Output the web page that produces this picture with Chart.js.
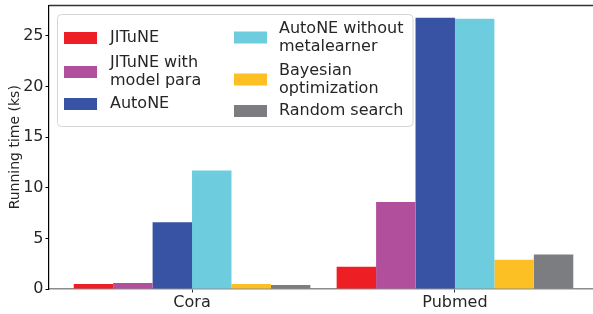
<!DOCTYPE html>
<html>
<head>
<meta charset="utf-8">
<script src="https://cdn.jsdelivr.net/npm/chart.js@4.4.1/dist/chart.umd.min.js"></script>
<style>
  html, body { margin: 0; padding: 0; background: #fff; }
  #wrap { width: 593px; height: 314px; position: relative; }
</style>
</head>
<body>
<div id="wrap"><canvas id="grafico"></canvas></div>
<script>
// ------- Dados -------
const categorias = ['Cora', 'Pubmed'];
const metodos = ['JITuNE', 'JITuNE with\nmodel para', 'AutoNE', 'AutoNE without\nmetalearner', 'Bayesian\noptimization', 'Random search'];
const jitune = [0.5, 2.2];
const jituneModelPara = [0.6, 8.6];
const autone = [6.6, 26.8];
const autoneSemMeta = [11.7, 26.7];
const bayesiana = [0.5, 2.9];
const aleatoria = [0.4, 3.4];
const yTicks = [0, 5, 10, 15, 20, 25];
const yMax = 28;

const series = [jitune, jituneModelPara, autone, autoneSemMeta, bayesiana, aleatoria];
const cores = ['#ED1F24', '#B14F9C', '#3953A4', '#6DCDDE', '#FDC024', '#7C7D81'];

const FONTE = "'DejaVu Sans', sans-serif";
const TEXTO = '#262626';

// ------- Legenda (2 colunas, rótulos com quebra de linha) -------
const legendaCaixa = { x: 57.5, y: 14.5, w: 355.5, h: 112, r: 4 };
const legendaPatchX = [64, 234];
const legendaTextoX = [110, 279];
const legendaCentroY = [38, 72, 104, 37.5, 79.5, 111];

const legendaPlugin = {
  id: 'legendaCustom',
  afterDraw(chart) {
    const ctx = chart.ctx;
    ctx.save();
    const b = legendaCaixa;
    ctx.beginPath();
    ctx.roundRect(b.x, b.y, b.w, b.h, b.r);
    ctx.fillStyle = 'rgba(255,255,255,0.8)';
    ctx.fill();
    ctx.strokeStyle = '#d6d6d6';
    ctx.lineWidth = 1;
    ctx.stroke();

    ctx.font = '16px ' + FONTE;
    ctx.textBaseline = 'middle';
    ctx.textAlign = 'left';
    chart.data.datasets.forEach((ds, i) => {
      const col = i < 3 ? 0 : 1;
      const cy = legendaCentroY[i];
      ctx.fillStyle = ds.backgroundColor;
      ctx.fillRect(legendaPatchX[col], cy - 6, 33, 12);
      const linhas = ds.label.split('\n');
      const lh = 18;
      ctx.fillStyle = TEXTO;
      linhas.forEach((l, k) => {
        const y = cy + (k - (linhas.length - 1) / 2) * lh;
        ctx.fillText(l, legendaTextoX[col], y);
      });
    });
    ctx.restore();
  }
};

// linha superior do eixo (spine)
const spinePlugin = {
  id: 'spineTopo',
  afterDraw(chart) {
    const { ctx, chartArea } = chart;
    ctx.save();
    ctx.strokeStyle = '#333';
    ctx.lineWidth = 1.5;
    ctx.beginPath();
    ctx.moveTo(chartArea.left, chartArea.top);
    ctx.lineTo(chartArea.right, chartArea.top);
    ctx.stroke();
    ctx.restore();
  }
};

Chart.defaults.font.family = FONTE;
Chart.defaults.color = TEXTO;

const ctx = document.getElementById('grafico').getContext('2d');
const chart = new Chart(ctx, {
  type: 'bar',
  data: {
    datasets: series.map((vals, i) => ({
      label: metodos[i],
      data: vals.map((v, j) => ({ x: j, y: v })),
      backgroundColor: cores[i],
      borderWidth: 0,
      categoryPercentage: 0.9,
      barPercentage: 1.0
    }))
  },
  options: {
    responsive: true,
    maintainAspectRatio: false,
    animation: false,
    layout: { padding: { top: 5.5, right: 0, left: 0, bottom: 0 } },
    plugins: {
      legend: { display: false },
      tooltip: { enabled: false }
    },
    scales: {
      x: {
        type: 'linear',
        min: -0.544,
        max: 1.525,
        offset: false,
        afterBuildTicks: axis => { axis.ticks = categorias.map((c, i) => ({ value: i })); },
        afterFit: scale => { scale.height = 25; scale.paddingLeft = 0; scale.paddingRight = 0; },
        ticks: {
          font: { size: 16 },
          color: TEXTO,
          padding: 1,
          maxRotation: 0,
          callback: v => categorias[v]
        },
        grid: { display: true, offset: false, drawOnChartArea: false, drawTicks: true, tickLength: 3.5, color: '#333' },
        border: { display: true, color: '#8c8c8c', width: 1.5 }
      },
      y: {
        min: 0,
        max: yMax,
        afterBuildTicks: axis => { axis.ticks = yTicks.map(v => ({ value: v })); },
        afterFit: scale => { scale.width = 49; scale.paddingTop = 0; scale.paddingBottom = 0; },
        ticks: { font: { size: 16 }, color: TEXTO, padding: 2 },
        grid: { display: true, drawOnChartArea: false, drawTicks: true, tickLength: 3.5, color: '#000' },
        border: { display: true, color: '#000', width: 1.2 },
        title: {
          display: true,
          text: 'Running time (ks)',
          font: { size: 14 },
          color: TEXTO,
          padding: { top: 6.6, bottom: 0 }
        }
      }
    }
  },
  plugins: [spinePlugin, legendaPlugin]
});
</script>
</body>
</html>
